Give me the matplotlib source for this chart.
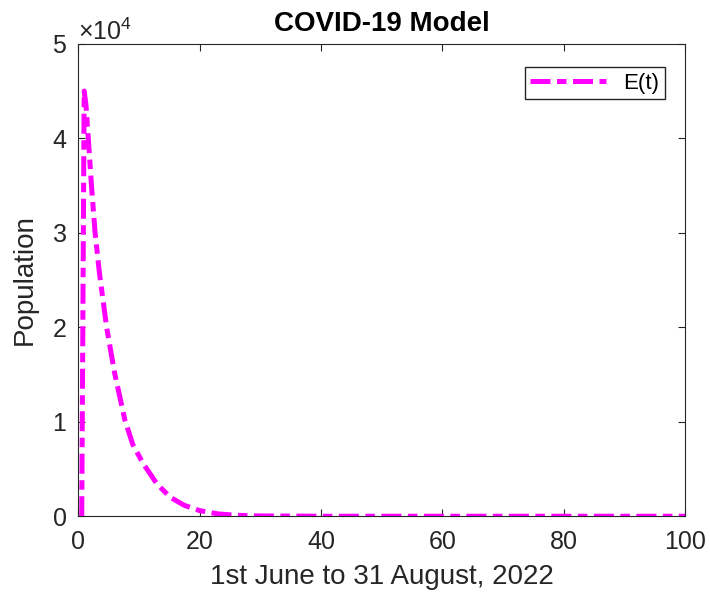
import matplotlib
matplotlib.use('Agg')
import matplotlib.pyplot as plt
from matplotlib.ticker import ScalarFormatter

plt.rcParams['font.family'] = ['Liberation Sans', 'DejaVu Sans']
plt.rcParams['mathtext.fontset'] = 'custom'
plt.rcParams['mathtext.rm'] = 'Liberation Sans'

# values (days, exposed population)
t = [0.6, 1.0, 1.3, 1.7, 2.2, 2.8, 3.5, 4.7, 6.0, 7.7, 9.0, 10.7, 13.0, 15.2, 17.5, 20.0, 23.0, 26.0, 30.0, 40.0, 60.0, 80.0, 100.0]
E = [0, 45000, 43500, 39800, 35000, 30000, 25800, 20000, 15200, 10200, 7600, 5600, 3400, 2000, 1150, 600, 250, 100, 30, 0, 0, 0, 0]

xticks = [0, 20, 40, 60, 80, 100]
yticks = [0, 10000, 20000, 30000, 40000, 50000]

fig = plt.figure(figsize=(7.1, 5.92), dpi=100)
ax = fig.add_axes([0.11, 0.128, 0.855, 0.798])
ax.plot(t, E, color='#ff00ff', lw=3.6, ls=(0, (4, 1.3, 1.9, 1.3)), label='E(t)')

ax.set_xlim(0, 100); ax.set_ylim(0, 50000)
ax.set_xticks(xticks); ax.set_yticks(yticks)
fmt = ScalarFormatter(useMathText=True); fmt.set_powerlimits((0, 0))
ax.yaxis.set_major_formatter(fmt)
ax.yaxis.get_offset_text().set_fontsize(18)
ax.yaxis.get_offset_text().set_color('#262626')
ax.tick_params(direction='in', top=True, right=True, labelsize=18, colors='#262626', length=5)
ax.tick_params(axis='x', pad=10)
ax.tick_params(axis='y', pad=8)
for s in ax.spines.values():
    s.set_color('#262626'); s.set_linewidth(0.8)

ax.set_title('COVID-19 Model', fontsize=20, fontweight='bold', pad=9)
ax.set_xlabel('1st June to 31 August, 2022', fontsize=20, color='#262626', labelpad=7)
ax.set_ylabel('Population', fontsize=20, color='#262626', labelpad=10)
ax.legend(loc='upper right', fontsize=16, fancybox=False, edgecolor='#262626', framealpha=1,
          handlelength=3.4, borderpad=0.25, borderaxespad=0, bbox_to_anchor=(0.967, 0.951))

fig.savefig('out.png', dpi=100)
